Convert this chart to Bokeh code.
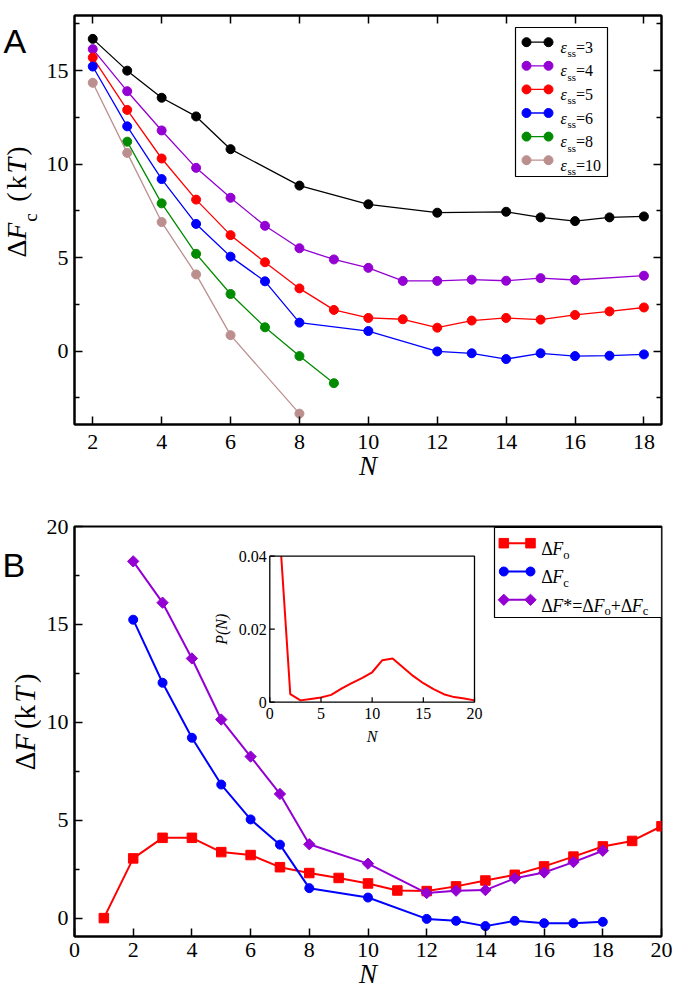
import math
from bokeh.plotting import figure
from bokeh.models import Range1d, LinearAxis, FixedTicker, Label, CustomJSTickFormatter
from bokeh.layouts import column, row
from bokeh.embed import file_html
from bokeh.resources import INLINE

# ---------------- data: panel A (Delta F_c vs N for several eps_ss) ----------------
N_e3 = [2, 3, 4, 5, 6, 8, 10, 12, 14, 15, 16, 17, 18]
F_e3 = [16.7, 15.0, 13.55, 12.55, 10.8, 8.85, 7.85, 7.4, 7.45, 7.15, 6.95, 7.15, 7.2]
N_e4 = [2, 3, 4, 5, 6, 7, 8, 9, 10, 11, 12, 13, 14, 15, 16, 18]
F_e4 = [16.15, 13.9, 11.8, 9.8, 8.2, 6.7, 5.5, 4.9, 4.45, 3.75, 3.75, 3.82, 3.76, 3.9, 3.8, 4.03]
N_e5 = [2, 3, 4, 5, 6, 7, 8, 9, 10, 11, 12, 13, 14, 15, 16, 17, 18]
F_e5 = [15.7, 12.9, 10.3, 8.1, 6.2, 4.75, 3.35, 2.2, 1.77, 1.7, 1.25, 1.63, 1.77, 1.68, 1.93, 2.12, 2.33]
N_e6 = [2, 3, 4, 5, 6, 7, 8, 10, 12, 13, 14, 15, 16, 17, 18]
F_e6 = [15.22, 12.02, 9.2, 6.8, 5.05, 3.73, 1.52, 1.07, -0.02, -0.12, -0.43, -0.12, -0.27, -0.25, -0.18]
N_e8 = [3, 4, 5, 6, 7, 8, 9]
F_e8 = [11.2, 7.9, 5.2, 3.05, 1.27, -0.27, -1.72]
N_e10 = [2, 3, 4, 5, 6, 8]
F_e10 = [14.35, 10.6, 6.9, 4.1, 0.85, -3.35]
EPS_LABELS = ["3", "4", "5", "6", "8", "10"]
EPS_COLORS = ["#000000", "#9400D3", "#FF0000", "#0000FF", "#008B00", "#BC8F8F"]

A_XTICKS = [2, 4, 6, 8, 10, 12, 14, 16, 18]
A_YTICKS = [0, 5, 10, 15]
A_YMINOR = [-2.5, 2.5, 7.5, 12.5, 17.5]

# ---------------- data: panel B ----------------
N_o = [1, 2, 3, 4, 5, 6, 7, 8, 9, 10, 11, 12, 13, 14, 15, 16, 17, 18, 19, 20]
F_o = [0.0, 3.05, 4.1, 4.1, 3.37, 3.22, 2.6, 2.3, 2.05, 1.77, 1.41, 1.38, 1.62, 1.92, 2.21, 2.64, 3.14, 3.66, 3.94, 4.69]
N_c = [2, 3, 4, 5, 6, 7, 8, 10, 12, 13, 14, 15, 16, 17, 18]
F_c = [15.24, 12.02, 9.21, 6.82, 5.04, 3.75, 1.53, 1.05, -0.04, -0.14, -0.41, -0.14, -0.26, -0.26, -0.19]
N_s = [2, 3, 4, 5, 6, 7, 8, 10, 12, 13, 14, 15, 16, 17, 18]
F_s = [18.22, 16.11, 13.26, 10.14, 8.25, 6.34, 3.77, 2.78, 1.28, 1.4, 1.43, 2.03, 2.33, 2.86, 3.44]

B_XTICKS = [0, 2, 4, 6, 8, 10, 12, 14, 16, 18, 20]
B_YTICKS = [0, 5, 10, 15, 20]
B_YMINOR = [2.5, 7.5, 12.5, 17.5]

# inset: P(N)
N_P = [1, 2, 3, 4, 5, 6, 7, 8, 9, 10, 11, 12, 13, 14, 15, 16, 17, 18, 19, 20]
P_N = [0.045, 0.0022, 0.0005, 0.0009, 0.0013, 0.002, 0.0037, 0.0052, 0.0066, 0.0082,
       0.0115, 0.012, 0.0096, 0.0072, 0.0052, 0.0036, 0.0022, 0.0014, 0.001, 0.0005]
IN_XTICKS = [0, 5, 10, 15, 20]
IN_XLABELS = ["0", "5", "10", "15", "20"]
IN_YTICKS = [0, 0.02, 0.04]
IN_YLABELS = ["0", "0.02", "0.04"]

# ---------------- geometry (page pixels, page origin at 0,0) ----------------
PAGE_W = 677
STRIP_W = 41     # strip holding the rotated y titles and panel letters
FL = 74          # frame left
FW = 587         # frame width
A_TOP, A_FH, A_H = 15, 409, 490
B_TOP, B_FH, B_H = 526, 410, 502
A_BOT = A_TOP + A_FH
B_BOT = B_TOP + B_FH
SERIF = "Liberation Serif"
SANS = "Liberation Sans"
MID = 0.3375     # em-box middle above the baseline (Liberation Serif)

REG_W = {'Δ': 0.612, '(': 0.333, ')': 0.333, 'k': 0.5, ' ': 0.25, '*': 0.5, '=': 0.564,
         '+': 0.564, '.': 0.25, 's': 0.389, 'o': 0.5, 'c': 0.444}
ITA_W = {'F': 0.611, 'T': 0.556, 'N': 0.667, 'P': 0.611, 'ε': 0.44, '(': 0.333, ')': 0.333}


def text_w(t, ital):
    tab = ITA_W if ital else REG_W
    return sum(tab.get(ch, 0.5) for ch in t)


def rich(p, runs, x, y, size, sub_scale=0.68, sub_drop=0.3, xr=None, yr=None):
    """horizontal text made of runs (text, italic, subscript)"""
    pos = 0.0
    extra = {}
    if xr:
        extra["x_range_name"] = xr
    if yr:
        extra["y_range_name"] = yr
    for t, ital, sub in runs:
        s = size * sub_scale if sub else size
        d = size * sub_drop if sub else 0.0
        p.add_layout(Label(x=x + pos, y=y - d, text=t,
                           text_font=SERIF, text_font_size=f"{s:.1f}px",
                           text_font_style="italic" if ital else "normal",
                           text_align="left", text_baseline="alphabetic", text_color="black", **extra))
        pos += text_w(t, ital) * s


def vtext(strip, h, top, items, base_x, size, sub_scale=0.68, sub_drop=0.42):
    """vertical (reading upward) text; items = (text, italic, subscript, centre y on page)"""
    for t, ital, sub, cy in items:
        s = size * sub_scale if sub else size
        bx = base_x + (size * sub_drop if sub else 0.0)
        strip.add_layout(Label(x=bx - MID * s, y=h - (cy - top), text=t, angle=math.pi / 2,
                               text_font=SERIF, text_font_size=f"{s:.1f}px",
                               text_font_style="italic" if ital else "normal",
                               text_align="center", text_baseline="middle", text_color="black"))


def make_fig(xr, yr, fh, top, bottom):
    p = figure(frame_width=FW, frame_height=fh, x_range=Range1d(*xr), y_range=Range1d(*yr),
               min_border_left=FL - STRIP_W, min_border_right=PAGE_W - FL - FW,
               min_border_top=top, min_border_bottom=bottom,
               output_backend="svg", toolbar_location=None)
    p.grid.visible = False
    p.outline_line_color = "black"
    p.outline_line_width = 2
    p.background_fill_color = "white"
    p.border_fill_color = "white"
    p.extra_x_ranges = {"px": Range1d(0, FW)}
    p.extra_y_ranges = {"py": Range1d(0, fh)}
    return p


def make_strip(h):
    s = figure(width=STRIP_W, height=h, x_range=Range1d(0, STRIP_W), y_range=Range1d(0, h),
               x_axis_type=None, y_axis_type=None, min_border=0, min_border_left=0,
               min_border_right=0, min_border_top=0, min_border_bottom=0,
               output_backend="svg", toolbar_location=None)
    s.grid.visible = False
    s.outline_line_color = None
    s.background_fill_color = "white"
    s.border_fill_color = "white"
    return s


def style_axis(ax, ticks, minor, labels=True, standoff=6):
    ax.ticker = FixedTicker(ticks=ticks, minor_ticks=minor)
    ax.axis_line_width = 2
    ax.axis_line_color = "black"
    ax.major_tick_in = 8
    ax.major_tick_out = 0
    ax.major_tick_line_width = 1.5
    ax.minor_tick_in = 5
    ax.minor_tick_out = 0
    ax.minor_tick_line_width = 1.5
    ax.major_label_text_font = SERIF
    ax.major_label_text_font_size = "22px"
    ax.major_label_text_color = "black"
    ax.major_label_standoff = standoff
    if not labels:
        ax.formatter = CustomJSTickFormatter(code="return ''")
        ax.major_label_standoff = 0


def n_title(ax, standoff):
    ax.axis_label = "N"
    ax.axis_label_text_font = SERIF
    ax.axis_label_text_font_size = "27px"
    ax.axis_label_text_font_style = "italic"
    ax.axis_label_text_color = "black"
    ax.axis_label_standoff = standoff


# ======================= PANEL A =======================
pA = make_fig((1.47, 18.51), (-3.93, 17.95), A_FH, A_TOP, A_H - A_TOP - A_FH)
style_axis(pA.xaxis[0], A_XTICKS, [], standoff=10)
n_title(pA.xaxis[0], -1)
style_axis(pA.yaxis[0], A_YTICKS, A_YMINOR, standoff=6)
topA = LinearAxis()
style_axis(topA, A_XTICKS, [], labels=False)
pA.add_layout(topA, "above")
rightA = LinearAxis()
style_axis(rightA, A_YTICKS, A_YMINOR, labels=False)
pA.add_layout(rightA, "right")

seriesA = [(N_e3, F_e3), (N_e4, F_e4), (N_e5, F_e5), (N_e6, F_e6), (N_e8, F_e8), (N_e10, F_e10)]
for (nn, ff), col in zip(seriesA, EPS_COLORS):
    pA.line(nn, ff, line_color=col, line_width=1.3)
    pA.scatter(nn, ff, marker="circle", size=9, fill_color=col, line_color=col)

# legend A (frame pixel coordinates)
LA_L, LA_R, LA_T, LA_B = 515, 607, 27, 176
pA.quad(left=[LA_L - FL], right=[LA_R - FL], bottom=[A_BOT - LA_B], top=[A_BOT - LA_T],
        x_range_name="px", y_range_name="py", fill_color="white", line_color="black", line_width=1.2)
for i, (lab, col) in enumerate(zip(EPS_LABELS, EPS_COLORS)):
    yc = A_BOT - (41.7 + 23.6 * i)
    gx = [526 - FL, 548 - FL]
    pA.line(gx, [yc, yc], x_range_name="px", y_range_name="py", line_color=col, line_width=1.3)
    pA.scatter(gx, [yc, yc], x_range_name="px", y_range_name="py", marker="circle", size=9,
               fill_color=col, line_color=col)
    rich(pA, [("ε", True, False), ("ss", False, True), ("=" + lab, False, False)],
         560 - FL, yc - 5, 16, sub_scale=0.68, sub_drop=0.38, xr="px", yr="py")

# strip A: panel letter and y title
sA = make_strip(A_H)
sA.add_layout(Label(x=3, y=A_H - 31, text="A", text_font=SANS, text_font_size="34px",
                    text_align="left", text_baseline="alphabetic", text_color="black"))
vtext(sA, A_H, 0, [("Δ", False, False, 279), ("F", True, False, 258.5), ("c", False, True, 242),
                   ("(", False, False, 217.5), ("k", False, False, 200), ("T", True, False, 180),
                   (")", False, False, 162.5)], 25, 28)

# ======================= PANEL B =======================
pB = make_fig((0, 20), (-0.94, 20.0), B_FH, B_TOP - A_H, B_H - (B_TOP - A_H) - B_FH)
style_axis(pB.xaxis[0], B_XTICKS, [], standoff=6)
n_title(pB.xaxis[0], -1)
style_axis(pB.yaxis[0], B_YTICKS, B_YMINOR, standoff=6)

pB.line(N_o, F_o, line_color="#FF0000", line_width=2)
pB.scatter(N_o, F_o, marker="square", size=9.5, fill_color="#FF0000", line_color="#FF0000")
pB.line(N_c, F_c, line_color="#0000FF", line_width=2)
pB.scatter(N_c, F_c, marker="circle", size=9, fill_color="#0000FF", line_color="#0000FF")
pB.line(N_s, F_s, line_color="#9400D3", line_width=2)
pB.scatter(N_s, F_s, marker="square", angle=math.pi / 4, size=8, fill_color="#9400D3",
           line_color="#9400D3")

# legend B
LB_L, LB_R, LB_T, LB_B = 494, 661, 527, 617
pB.quad(left=[LB_L - FL], right=[LB_R - FL], bottom=[B_BOT - LB_B], top=[B_BOT - LB_T],
        x_range_name="px", y_range_name="py", fill_color="white", line_color="black", line_width=1.2)
legB = [
    ("square", 0.0, 9.5, "#FF0000", [("Δ", False, False), ("F", True, False), ("o", False, True)]),
    ("circle", 0.0, 9, "#0000FF", [("Δ", False, False), ("F", True, False), ("c", False, True)]),
    ("square", math.pi / 4, 8, "#9400D3",
     [("Δ", False, False), ("F", True, False), ("*=Δ", False, False), ("F", True, False),
      ("o", False, True), ("+Δ", False, False), ("F", True, False), ("c", False, True)]),
]
for i, (mk, ang, sz, col, runs) in enumerate(legB):
    yc = B_BOT - (542.7 + 28.3 * i)
    gx = [503.3 - FL, 530 - FL]
    pB.line(gx, [yc, yc], x_range_name="px", y_range_name="py", line_color=col, line_width=2)
    pB.scatter(gx, [yc, yc], x_range_name="px", y_range_name="py", marker=mk, angle=ang, size=sz,
               fill_color=col, line_color=col)
    rich(pB, runs, 540.7 - FL, yc - 5.7, 18, sub_scale=0.7, sub_drop=0.33, xr="px", yr="py")

# inset (its own scales laid over panel B's frame)
I_L, I_R, I_T, I_B = 269.3, 474.0, 555.7, 701.7
sx = (IN_XTICKS[-1] - IN_XTICKS[0]) / (I_R - I_L)
sy = (IN_YTICKS[-1] - IN_YTICKS[0]) / (I_B - I_T)
ix_end = IN_XTICKS[-1] + (FL + FW - I_R) * sx
iy_end = IN_YTICKS[-1] + (I_T - B_TOP) * sy
pB.extra_x_ranges["ix"] = Range1d(IN_XTICKS[0] - (I_L - FL) * sx, ix_end)
pB.extra_y_ranges["iy"] = Range1d(IN_YTICKS[0] - (B_BOT - I_B) * sy, iy_end)
pB.line(N_P, P_N, x_range_name="ix", y_range_name="iy", line_color="#FF0000", line_width=2)
# mask the part of the curve above the inset frame (stays below panel B's top border)
pB.quad(left=[IN_XTICKS[0]], right=[N_P[1]], bottom=[IN_YTICKS[-1]], top=[iy_end - 3 * sy],
        x_range_name="ix", y_range_name="iy", fill_color="white", line_color=None)
pB.quad(left=[IN_XTICKS[0]], right=[IN_XTICKS[-1]], bottom=[IN_YTICKS[0]], top=[IN_YTICKS[-1]],
        x_range_name="ix", y_range_name="iy", fill_color=None, line_color="black", line_width=1.3)
pB.segment(x0=IN_XTICKS, y0=[IN_YTICKS[0]] * len(IN_XTICKS), x1=IN_XTICKS,
           y1=[IN_YTICKS[0] + 5 * sy] * len(IN_XTICKS), x_range_name="ix", y_range_name="iy",
           line_color="black", line_width=1.2)
pB.segment(x0=[IN_XTICKS[0]] * len(IN_YTICKS), y0=IN_YTICKS, x1=[IN_XTICKS[0] + 5 * sx] * len(IN_YTICKS),
           y1=IN_YTICKS, x_range_name="ix", y_range_name="iy", line_color="black", line_width=1.2)
for t, lab in zip(IN_XTICKS, IN_XLABELS):
    pB.add_layout(Label(x=t, y=IN_YTICKS[0] - 6 * sy, x_range_name="ix", y_range_name="iy", text=lab,
                        text_font=SERIF, text_font_size="16px", text_align="center",
                        text_baseline="top", text_color="black"))
for t, lab in zip(IN_YTICKS, IN_YLABELS):
    pB.add_layout(Label(x=IN_XTICKS[0] - 3 * sx, y=t, x_range_name="ix", y_range_name="iy", text=lab,
                        text_font=SERIF, text_font_size="16px", text_align="right",
                        text_baseline="middle", text_color="black"))
pB.add_layout(Label(x=(IN_XTICKS[0] + IN_XTICKS[-1]) / 2, y=IN_YTICKS[0] - 34 * sy, x_range_name="ix",
                    y_range_name="iy", text="N", text_font=SERIF, text_font_size="16px",
                    text_font_style="italic", text_align="center", text_baseline="alphabetic",
                    text_color="black"))
pB.add_layout(Label(x=IN_XTICKS[0] - (I_L - 221) * sx, y=(IN_YTICKS[0] + IN_YTICKS[-1]) / 2,
                    x_range_name="ix", y_range_name="iy", text="P(N)", angle=math.pi / 2,
                    text_font=SERIF, text_font_size="16px", text_font_style="italic",
                    text_align="center", text_baseline="middle", text_color="black"))

# strip B: panel letter and y title
sB = make_strip(B_H)
sB.add_layout(Label(x=2, y=B_H - (537 - A_H), text="B", text_font=SANS, text_font_size="34px",
                    text_align="left", text_baseline="alphabetic", text_color="black"))
vtext(sB, B_H, A_H, [("Δ", False, False, 777), ("F", True, False, 755), ("(", False, False, 732),
                     ("k", False, False, 717.5), ("T", True, False, 696), (")", False, False, 676)],
      34.5, 29)

layout = column(row(sA, pA, spacing=0), row(sB, pB, spacing=0), spacing=0)
open("out.html", "w").write(file_html(layout, INLINE))
